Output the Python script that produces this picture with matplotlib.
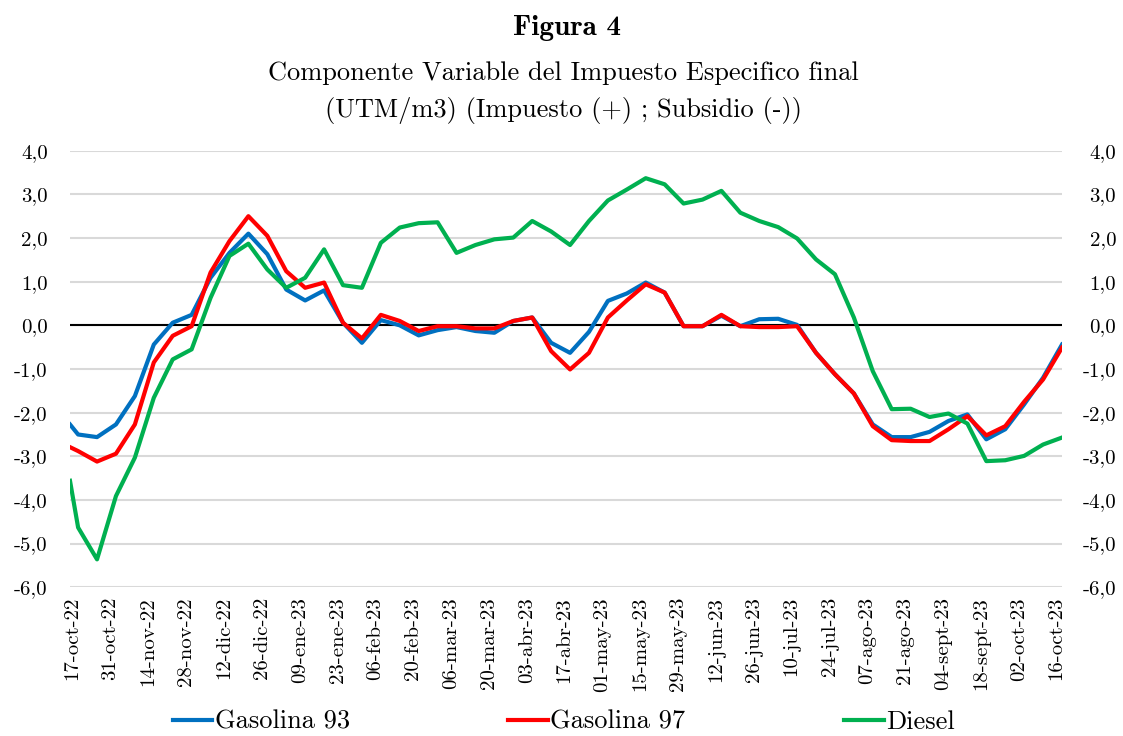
import numpy as np
import pandas as pd
import matplotlib
matplotlib.use("Agg")
import matplotlib.pyplot as plt

# weekly values (Wednesdays), plus the values where the lines meet the plot edges
start_edge = "2022-10-16"
end_edge = "2023-10-18"
weeks = pd.date_range("2022-10-19", periods=52, freq="7D")
fechas = [pd.Timestamp(start_edge)] + list(weeks) + [pd.Timestamp(end_edge)]

gas93 = [-2.27,
         -2.50, -2.56, -2.27, -1.62, -0.44, 0.06, 0.24, 1.09, 1.66, 2.10,
         1.63, 0.82, 0.57, 0.80, 0.06, -0.40, 0.12, 0.00, -0.23, -0.11,
         -0.04, -0.13, -0.17, 0.10, 0.18, -0.40, -0.63, -0.15, 0.56, 0.73,
         0.98, 0.75, -0.02, -0.02, 0.22, -0.02, 0.14, 0.15, 0.01, -0.63,
         -1.12, -1.56, -2.27, -2.56, -2.56, -2.44, -2.19, -2.04, -2.61, -2.38,
         -1.81, -1.20,
         -0.44]
gas97 = [-2.79,
         -2.88, -3.12, -2.94, -2.27, -0.85, -0.24, -0.02, 1.21, 1.93, 2.50,
         2.05, 1.24, 0.86, 0.98, 0.06, -0.30, 0.24, 0.10, -0.13, -0.02,
         -0.02, -0.07, -0.07, 0.10, 0.18, -0.59, -1.01, -0.63, 0.18, 0.57,
         0.94, 0.75, -0.02, -0.02, 0.24, -0.02, -0.04, -0.04, -0.02, -0.63,
         -1.12, -1.56, -2.31, -2.63, -2.65, -2.65, -2.38, -2.08, -2.52, -2.31,
         -1.75, -1.24,
         -0.51]
diesel = [-3.56,
          -4.63, -5.36, -3.91, -3.03, -1.66, -0.78, -0.55, 0.63, 1.59, 1.87,
          1.28, 0.86, 1.09, 1.74, 0.92, 0.86, 1.89, 2.24, 2.34, 2.36,
          1.66, 1.84, 1.97, 2.01, 2.39, 2.15, 1.84, 2.39, 2.86, 3.11,
          3.37, 3.23, 2.79, 2.88, 3.08, 2.58, 2.39, 2.25, 1.99, 1.51,
          1.17, 0.18, -1.05, -1.92, -1.91, -2.10, -2.02, -2.25, -3.11, -3.09,
          -2.99, -2.73,
          -2.57]

tick_fechas = pd.date_range("2022-10-17", "2023-10-16", freq="14D")
tick_labels = ["17-oct-22", "31-oct-22", "14-nov-22", "28-nov-22", "12-dic-22",
               "26-dic-22", "09-ene-23", "23-ene-23", "06-feb-23", "20-feb-23",
               "06-mar-23", "20-mar-23", "03-abr-23", "17-abr-23", "01-may-23",
               "15-may-23", "29-may-23", "12-jun-23", "26-jun-23", "10-jul-23",
               "24-jul-23", "07-ago-23", "21-ago-23", "04-sept-23", "18-sept-23",
               "02-oct-23", "16-oct-23"]
y_ticks = [4, 3, 2, 1, 0, -1, -2, -3, -4, -5, -6]
y_labels = ["4,0", "3,0", "2,0", "1,0", "0,0", "-1,0", "-2,0", "-3,0",
            "-4,0", "-5,0", "-6,0"]

plt.rcParams['font.family'] = ['cmr10', 'DejaVu Serif']

fig = plt.figure(figsize=(11.23, 7.36), dpi=100)
ax = fig.add_axes([70/1123, 1-587.3/736, 992/1123, 436.6/736])

ax.plot(fechas, gas93, color='#0070C0', lw=3, label='Gasolina 93', zorder=3)
ax.plot(fechas, gas97, color='#FF0000', lw=3, label='Gasolina 97', zorder=3)
ax.plot(fechas, diesel, color='#00B050', lw=3, label='Diesel', zorder=3)
ax.axhline(0, color='black', lw=1.5, zorder=2)

ax.set_xlim(pd.Timestamp(start_edge), pd.Timestamp(end_edge))
ax.set_ylim(-6, 4)
ax.set_yticks(y_ticks)
ax.set_yticklabels(y_labels, fontsize=15)
ax.set_xticks(tick_fechas)
ax.set_xticklabels(tick_labels, rotation=90, fontsize=15, ha='center', va='top')
ax.tick_params(axis='x', length=0, pad=7)
ax.tick_params(axis='y', length=0, pad=16)
ax.yaxis.grid(True, color='#d9d9d9', lw=1.5)
ax.set_axisbelow(True)
for s in ax.spines.values():
    s.set_visible(False)

ax2 = ax.twinx()
ax2.set_ylim(-6, 4)
ax2.set_yticks(y_ticks)
ax2.set_yticklabels(y_labels, fontsize=15)
ax2.tick_params(axis='y', length=0, pad=39)
for lbl in ax2.get_yticklabels():
    lbl.set_horizontalalignment('right')
for s in ax2.spines.values():
    s.set_visible(False)

fig.text(0.505, 1-28/736, "Figura 4", ha='center', va='center',
         fontsize=21, family=['cmb10', 'DejaVu Serif'])
fig.text(0.502, 1-73/736, "Componente Variable del Impuesto Especifico final",
         ha='center', va='center', fontsize=19)
fig.text(0.502, 1-110/736, "(UTM/m3) (Impuesto (+) ; Subsidio (-))",
         ha='center', va='center', fontsize=19)

fig.legend(loc='center', bbox_to_anchor=(0.502, 1-722/736), ncol=3,
           frameon=False, fontsize=19, handlelength=1.5, handletextpad=0.1,
           columnspacing=6.0, borderaxespad=0)

fig.savefig("out.png", dpi=100)
